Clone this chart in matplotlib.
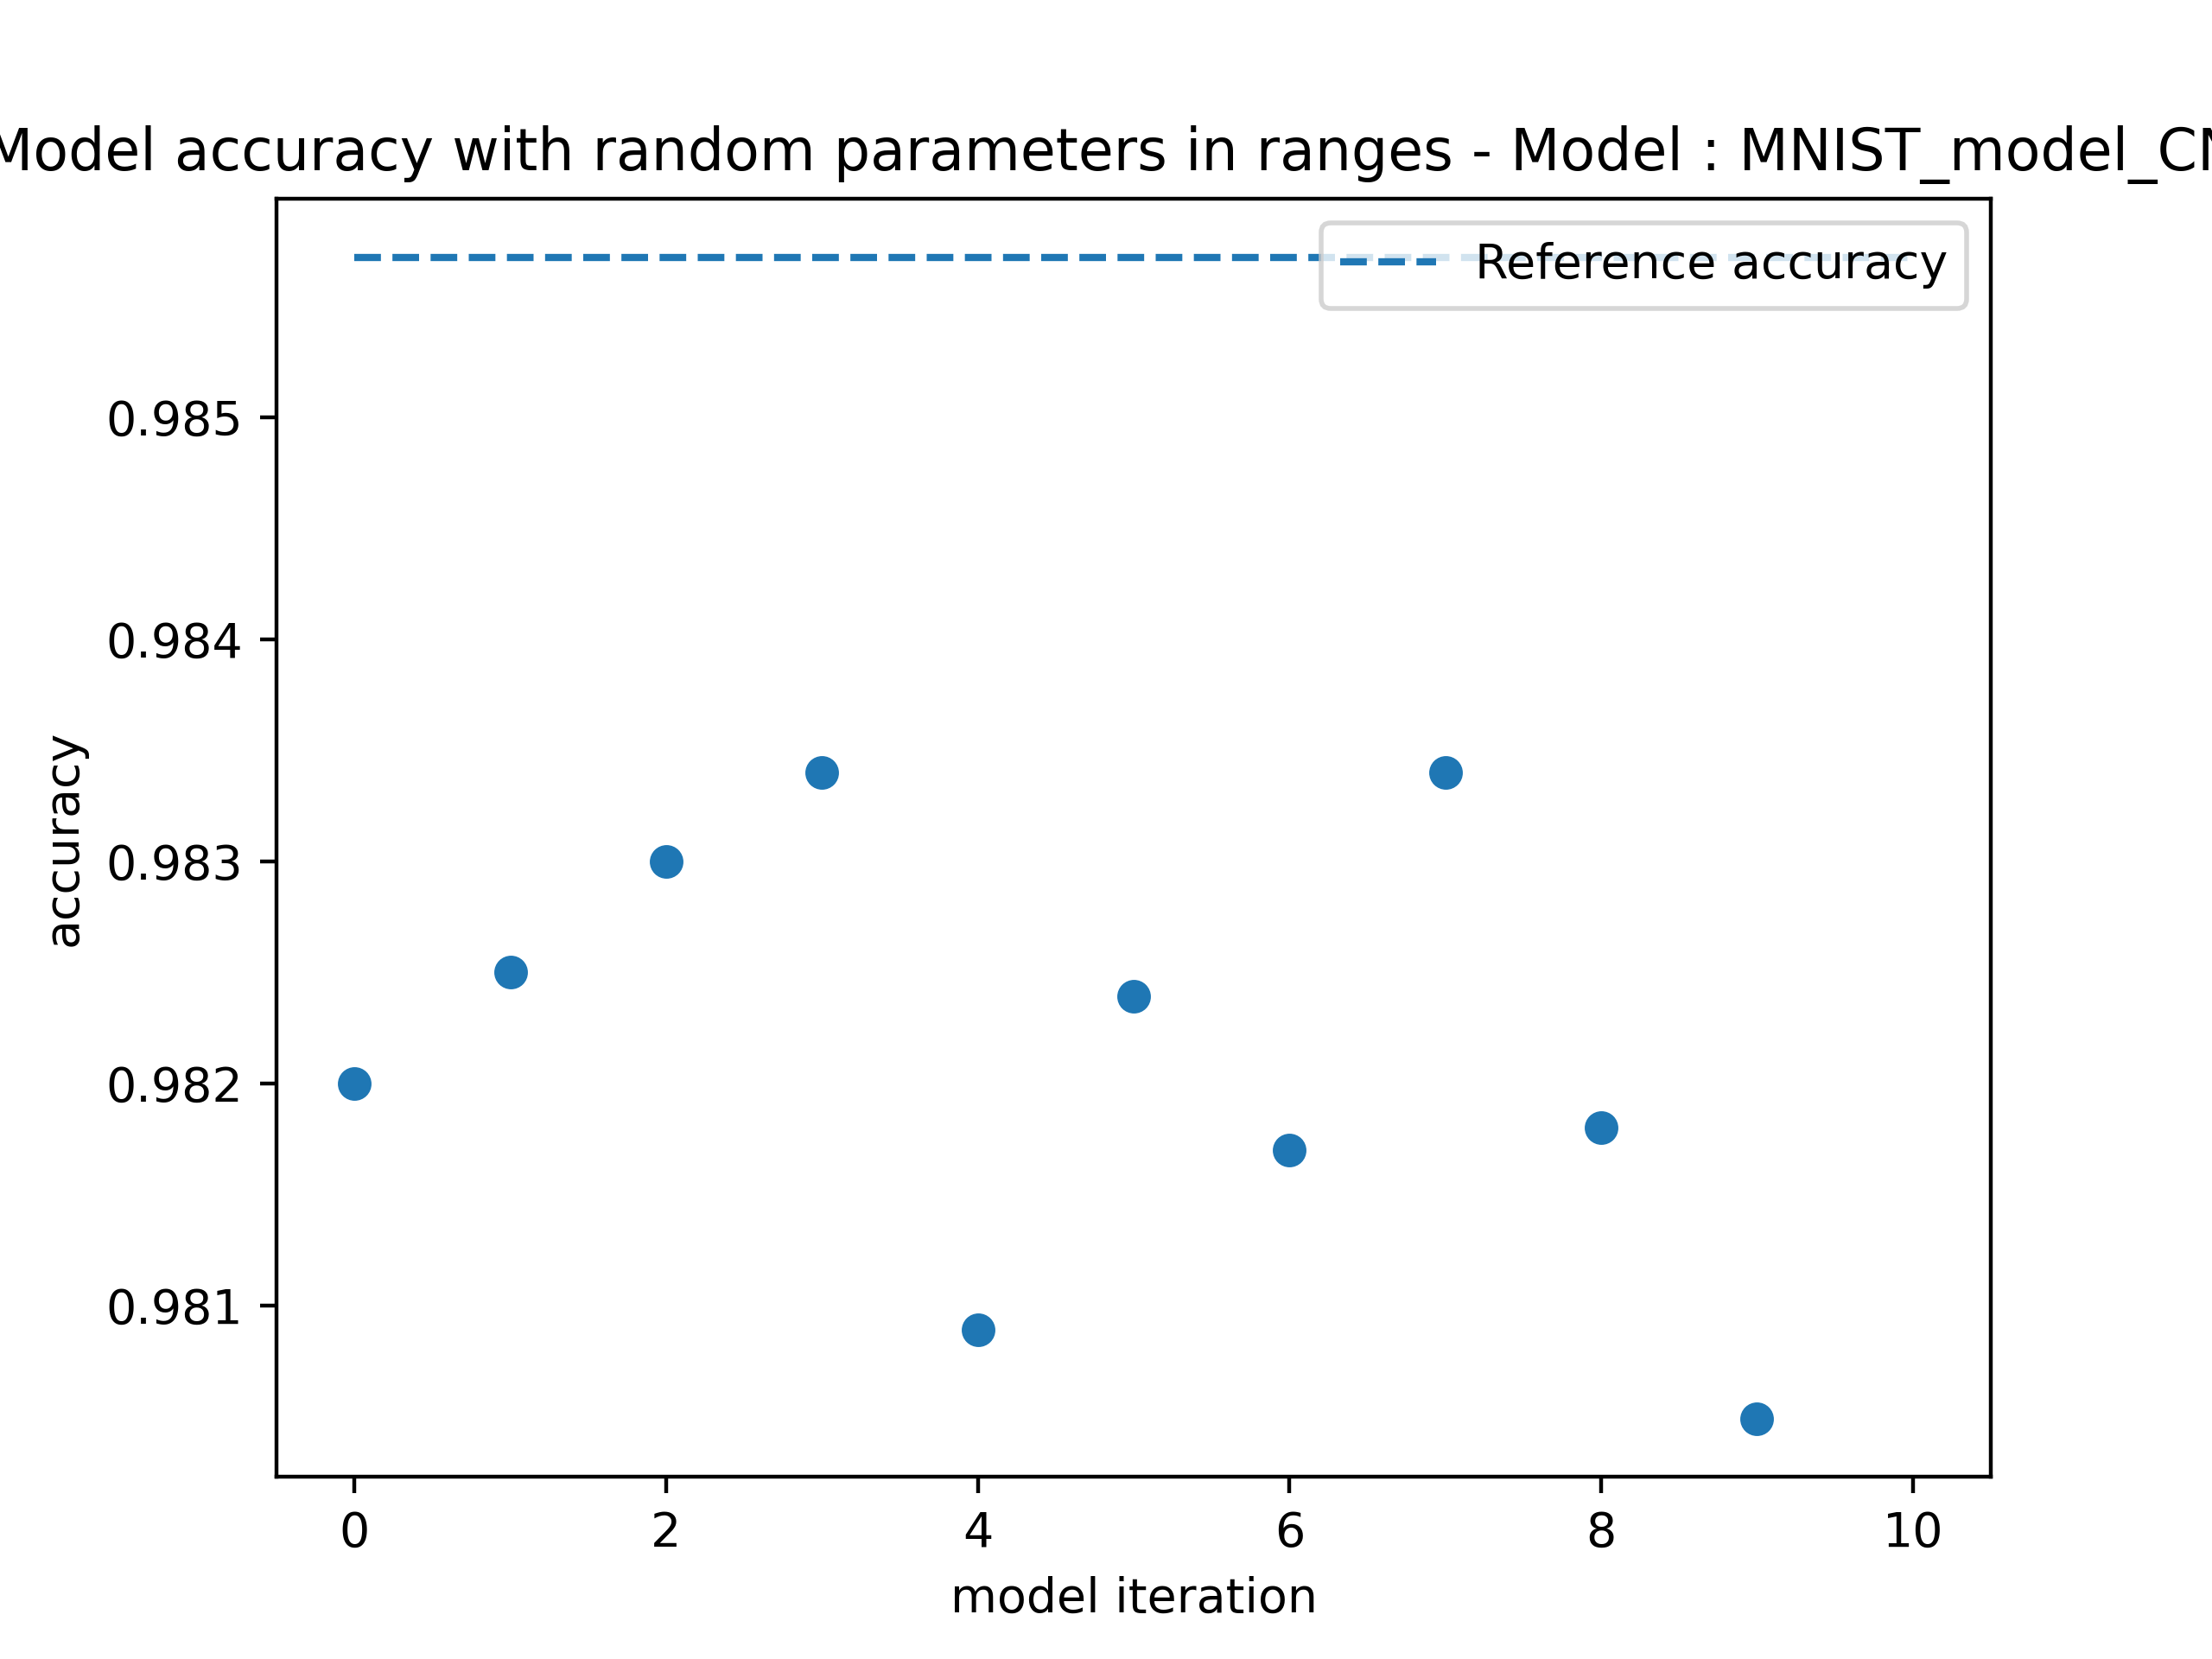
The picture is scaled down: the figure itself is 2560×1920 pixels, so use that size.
import matplotlib
matplotlib.use("Agg")
import matplotlib.pyplot as plt

iterations = [0, 1, 2, 3, 4, 5, 6, 7, 8, 9]
accuracy = [0.98200, 0.98250, 0.98300, 0.98340, 0.98089, 0.98239, 0.98170, 0.98340, 0.98180, 0.98049]
reference_accuracy = 0.98572
reference_x = [0, 10]
title = "Model accuracy with random parameters in ranges - Model : MNIST_model_CNN"

fig, ax = plt.subplots(figsize=(6.4, 4.8), dpi=400)
ax.scatter(iterations, accuracy)
ax.plot(reference_x, [reference_accuracy] * len(reference_x), "--", label="Reference accuracy")
ax.set_title(title)
ax.set_xlabel("model iteration")
ax.set_ylabel("accuracy")
ax.legend(loc="upper right")
fig.savefig("out.png", dpi=400)
